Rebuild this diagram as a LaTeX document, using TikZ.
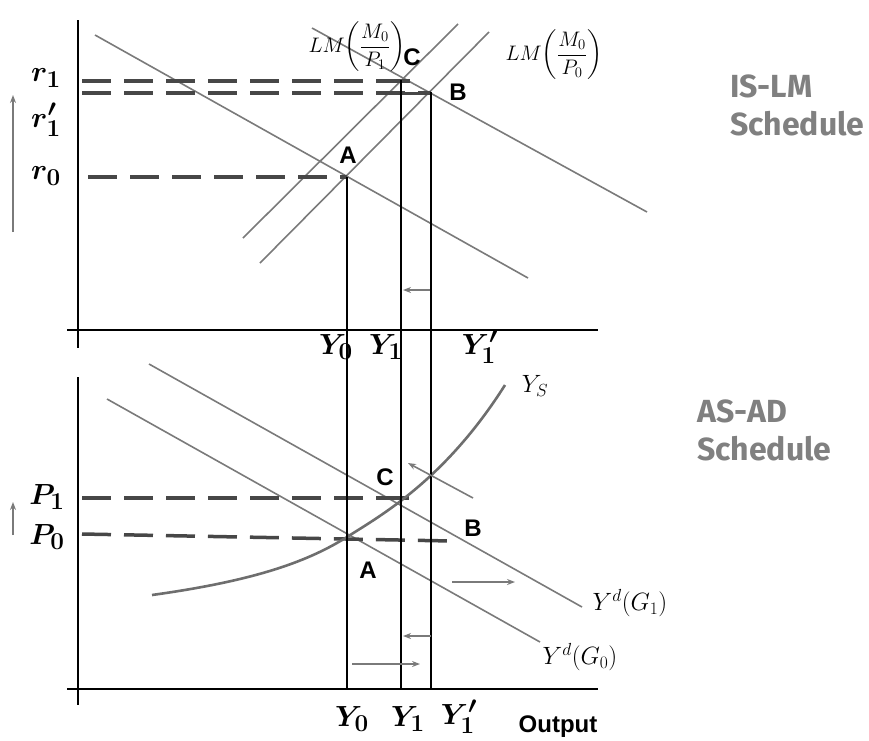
\RequirePackage{fix-cm}
\documentclass[tikz,border=0pt]{standalone}
\usepackage{amsmath,bm}
\usepackage{fontspec}
\newfontfamily\abcfont{Liberation Sans}
\newfontfamily\ttlfont{Fira Sans}
\usetikzlibrary{arrows.meta}
\definecolor{curvegray}{HTML}{7A7A7A}
\definecolor{dashgray}{HTML}{474747}
\definecolor{titlegray}{HTML}{808080}
\tikzset{
 axisline/.style={black,line width=2.4pt},
 guide/.style={black,line width=1.8pt},
 curveline/.style={curvegray,line width=1.6pt},
 ascurve/.style={curvegray!90!black,line width=2.6pt},
 dashline/.style={dashgray,line width=3.5pt,dash pattern=on 29pt off 13pt},
 shiftarrow/.style={curvegray,line width=1.6pt,-{Stealth[length=8pt,width=6pt]}},
 ptlabel/.style={font=\abcfont\bfseries\fontsize{24}{24}\selectfont,text=black,inner sep=0pt},
 axlabel/.style={font=\fontsize{24.88}{25}\selectfont,inner sep=0pt,scale=1.17},
 lmlabel/.style={font=\fontsize{21}{21}\selectfont,inner sep=0pt},
 curvelabel/.style={font=\fontsize{25}{25}\selectfont,inner sep=0pt},
 ttl/.style={font=\ttlfont\bfseries\fontsize{32}{32}\selectfont,text=titlegray,anchor=base west,inner sep=0pt},
 outlabel/.style={font=\abcfont\bfseries\fontsize{24}{24}\selectfont,inner sep=0pt},
}
\begin{document}
\begin{tikzpicture}[x=1pt,y=-1pt]
\useasboundingbox (0,0) rectangle (869,740);
% ---------------- top panel: IS-LM ----------------
\coordinate (tyTop) at (78,20);
\coordinate (tyBot) at (78,348);
\coordinate (txL) at (67,330);
\coordinate (txR) at (598,330);
\coordinate (A1) at (347,177);
\coordinate (C1) at (401,80);
\coordinate (B1) at (431,92);
\coordinate (is0s) at (95,35);   \coordinate (is0e) at (528,278);
\coordinate (is1s) at (312,28);  \coordinate (is1e) at (647,212);
\coordinate (lm1s) at (243,238); \coordinate (lm1e) at (458,24);
\coordinate (lm0s) at (260,263); \coordinate (lm0e) at (489,32);
\coordinate (r1s) at (82,81);
\coordinate (r1ps) at (82,93);
\coordinate (r0s) at (88,177);
\coordinate (upTs) at (13,232); \coordinate (upTe) at (13,95);
\coordinate (lTs) at (431,290); \coordinate (lTe) at (403,290);

\draw[curveline] (is0s) -- (is0e);
\draw[curveline] (is1s) -- (is1e);
\draw[curveline] (lm1s) -- (lm1e);
\draw[curveline] (lm0s) -- (lm0e);
\draw[dashline] (r1s) -- (C1 |- r1s);
\draw[dashline] (r1ps) -- (B1 |- r1ps);
\draw[dashline] (r0s) -- (A1);
\draw[dashgray,line width=3.5pt] (C1 |- r1s) -- ++(9,0);
\draw[dashgray,line width=3pt] (C1 |- r1ps) -- (B1 |- r1ps);
\draw[axisline] (tyTop) -- (tyBot);
\draw[axisline] (txL) -- (txR);
\draw[shiftarrow] (upTs) -- (upTe);
\draw[shiftarrow] (lTs) -- (lTe);

\node[axlabel] (r1lab) at (46,78) {$\bm{r_1}$};
\node[axlabel] (r1plab) at (46,120) {$\bm{r_1'}$};
\node[axlabel] (r0lab) at (46,176) {$\bm{r_0}$};
\node[axlabel] (ty0lab) at (336,347) {$\bm{Y_0}$};
\node[axlabel] (ty1lab) at (386,347) {$\bm{Y_1}$};
\node[axlabel] (ty1plab) at (480,347) {$\bm{Y_1'}$};
\node[ptlabel] (Alab1) at (348,155) {A};
\node[ptlabel] (Clab1) at (412,57) {C};
\node[ptlabel] (Blab1) at (458,92) {B};
\node[lmlabel] (lm1lab) at (357,47) {$LM\biggl(\dfrac{M_0}{P_1}\biggr)$};
\node[lmlabel] (lm0lab) at (554,55) {$LM\biggl(\dfrac{M_0}{P_0}\biggr)$};
\node[ttl] (islm1) at (730,97) {IS-LM};
\node[ttl] (islm2) at (730,135) {Schedule};

% ---------------- bottom panel: AS-AD ----------------
\coordinate (byTop) at (78,377);
\coordinate (byBot) at (78,705);
\coordinate (bxL) at (67,689);
\coordinate (bxR) at (598,689);
\coordinate (A2) at (347,537);
\coordinate (C2) at (401,503);
\coordinate (B2) at (431,541);
\coordinate (ad0s) at (107,399); \coordinate (ad0e) at (540,642);
\coordinate (ad1s) at (149,364); \coordinate (ad1e) at (582,607);
\coordinate (p1s) at (82,498); \coordinate (p1e) at (401,498);
\coordinate (p0s) at (82,534); \coordinate (p0e) at (452,541);
\coordinate (upBs) at (13,535); \coordinate (upBe) at (13,502);
\coordinate (dgs) at (473,498); \coordinate (dge) at (408,463);
\coordinate (rBs) at (452,582); \coordinate (rBe) at (515,582);
\coordinate (lBs) at (431,636); \coordinate (lBe) at (403,636);
\coordinate (r2s) at (352,664); \coordinate (r2e) at (420,664);
\coordinate (asS) at (152,595); \coordinate (asE) at (505,385);

\draw[curveline] (ad0s) -- (ad0e);
\draw[curveline] (ad1s) -- (ad1e);
\draw[dashline] (p1s) -- (p1e);
\draw[dashgray,line width=3.5pt] (p1e) -- ++(8,0);
\draw[dashline] (p0s) -- (p0e);
\draw[ascurve] (asS) .. controls (260,580) and (310,560) .. (A2)
  .. controls (380,516) and (445,480) .. (asE);
\draw[axisline] (byTop) -- (byBot);
\draw[axisline] (bxL) -- (bxR);

% vertical guides through both panels
\draw[guide] (A1) -- (A1 |- bxL);
\draw[guide] (C1) -- (C1 |- bxL);
\draw[guide] (B1) -- (B1 |- bxL);

\draw[shiftarrow] (upBs) -- (upBe);
\draw[shiftarrow] (dgs) -- (dge);
\draw[shiftarrow] (rBs) -- (rBe);
\draw[shiftarrow] (lBs) -- (lBe);
\draw[shiftarrow] (r2s) -- (r2e);

\node[axlabel] (p1lab) at (47,497) {$\bm{P_1}$};
\node[axlabel] (p0lab) at (47,537) {$\bm{P_0}$};
\node[axlabel] (by0lab) at (352,719) {$\bm{Y_0}$};
\node[axlabel] (by1lab) at (408,719) {$\bm{Y_1}$};
\node[axlabel] (by1plab) at (459,717) {$\bm{Y_1'}$};
\node[outlabel] (outlab) at (558,727) {Output};
\node[ptlabel] (Alab2) at (368,570) {A};
\node[ptlabel] (Clab2) at (385,477) {C};
\node[ptlabel] (Blab2) at (473,528) {B};
\node[curvelabel] (yslab) at (535,386) {$Y_S$};
\node[curvelabel] (yd1lab) at (630,603) {$Y^d(G_1)$};
\node[curvelabel] (yd0lab) at (580,657) {$Y^d(G_0)$};
\node[ttl] (asad1) at (697,422) {AS-AD};
\node[ttl] (asad2) at (697,460) {Schedule};
\end{tikzpicture}
\end{document}
